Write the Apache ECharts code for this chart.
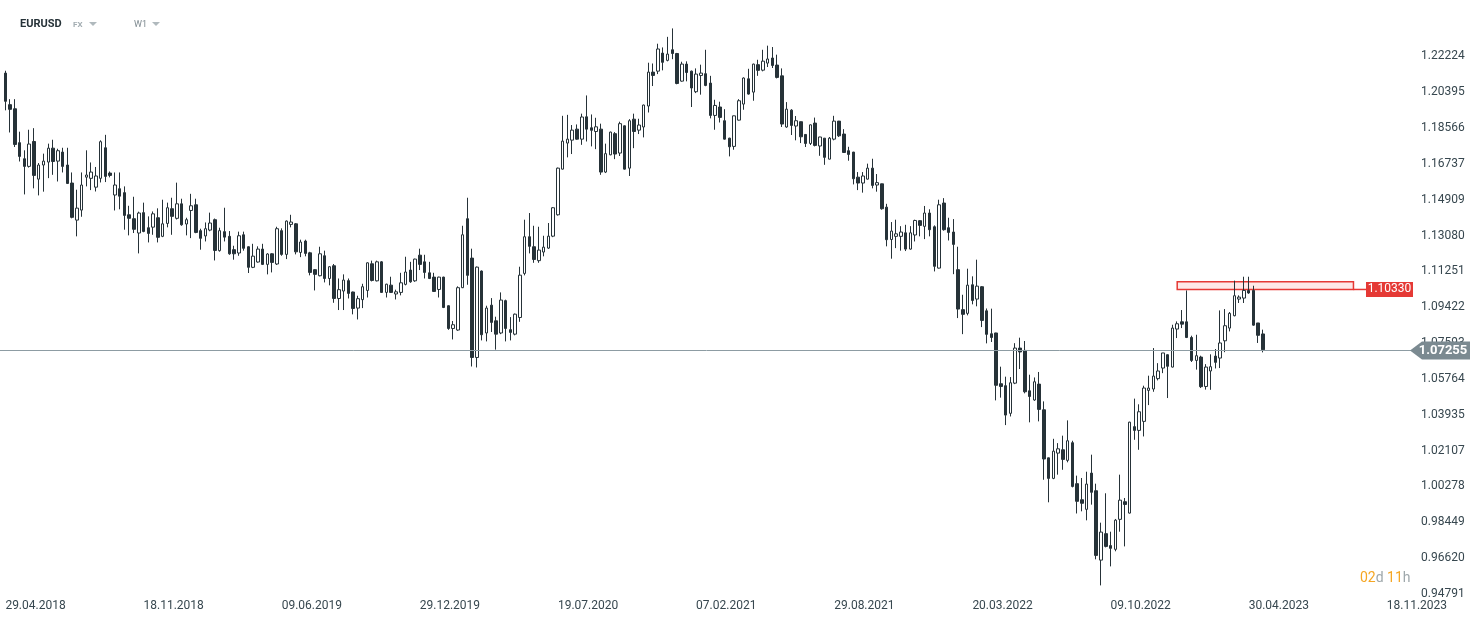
<!DOCTYPE html>
<html><head><meta charset="utf-8">
<script src="https://cdn.jsdelivr.net/npm/echarts@6/dist/echarts.min.js"></script>
<style>html,body{margin:0;padding:0;background:#fff}#c{width:1482px;height:622px}</style>
</head><body><div id="c"></div>
<script>
// ---- data ----
const weekCount = 296; // weekly slots on the axis (incl. future space)
const open = [
1.2137,1.1976,1.1955,1.1782,1.1700,1.1661,1.1788,1.1596,1.1668,1.1683,
1.1754,1.1688,1.1734,1.1668,1.1576,1.1387,1.1438,1.1606,1.1600,1.1555,
1.1600,1.1756,1.1627,1.1515,1.1547,1.1527,1.1414,1.1394,1.1321,1.1425,
1.1348,1.1351,1.1399,1.1304,1.1370,1.1445,1.1396,1.1470,1.1367,1.1436,
1.1465,1.1333,1.1306,1.1336,1.1389,1.1231,1.1328,1.1304,1.1236,1.1219,
1.1312,1.1251,1.1146,1.1173,1.1239,1.1161,1.1215,1.1163,1.1333,1.1212,
1.1365,1.1368,1.1222,1.1280,1.1220,1.1134,1.1103,1.1205,1.1089,1.1154,
1.0987,1.1025,1.1078,1.1020,1.0938,1.0981,1.1028,1.1164,1.1077,1.1174,
1.1018,1.1055,1.1010,1.1018,1.1059,1.1132,1.1077,1.1208,1.1174,1.1118,
1.1096,1.1033,1.1096,1.0950,1.0834,1.0826,1.1042,1.1394,1.1193,1.0686,
1.1127,1.0811,1.0953,1.0873,1.0811,1.0976,1.0828,1.0805,1.0890,1.1115,
1.1302,1.1251,1.1180,1.1224,1.1244,1.1305,1.1414,1.1647,1.1780,1.1795,
1.1851,1.1800,1.1914,1.1858,1.1839,1.1851,1.1632,1.1720,1.1828,1.1729,
1.1868,1.1652,1.1902,1.1846,1.1862,1.1969,1.2142,1.2147,1.2239,1.2202,
1.2256,1.2237,1.2096,1.2183,1.2147,1.2042,1.2125,1.2134,1.2086,1.1921,
1.1964,1.1894,1.1805,1.1763,1.1897,1.1979,1.2108,1.2040,1.2180,1.2152,
1.2188,1.2214,1.2178,1.2123,1.1862,1.1948,1.1867,1.1889,1.1824,1.1778,
1.1882,1.1765,1.1805,1.1698,1.1800,1.1892,1.1826,1.1741,1.1734,1.1606,
1.1576,1.1596,1.1652,1.1566,1.1572,1.1453,1.1288,1.1304,1.1304,1.1322,
1.1239,1.1311,1.1384,1.1355,1.1423,1.1353,1.1142,1.1474,1.1348,1.1326,
1.1134,1.0930,1.0911,1.1057,1.0984,1.1047,1.0924,1.0807,1.0811,1.0552,
1.0542,1.0401,1.0555,1.0734,1.0722,1.0516,1.0469,1.0550,1.0419,1.0174,
1.0069,1.0198,1.0215,1.0161,1.0251,1.0042,0.9960,0.9911,1.0096,1.0006,
0.9652,0.9787,0.9726,0.9707,0.9860,0.9950,0.9892,1.0333,1.0314,1.0360,
1.0518,1.0525,1.0578,1.0632,1.0700,1.0637,1.0831,1.0868,1.0868,1.0788,
1.0671,1.0688,1.0538,1.0617,1.0693,1.0683,1.0771,1.0836,1.0899,1.0984,
1.0989,1.1028,1.1028,1.0862,1.0806];
const high = [
1.2149,1.2004,1.2004,1.1838,1.1743,1.1848,1.1856,1.1678,1.1726,1.1777,
1.1797,1.1751,1.1756,1.1756,1.1630,1.1542,1.1630,1.1743,1.1681,1.1658,
1.1794,1.1822,1.1635,1.1630,1.1630,1.1559,1.1460,1.1506,1.1430,1.1476,
1.1406,1.1431,1.1447,1.1491,1.1476,1.1501,1.1578,1.1496,1.1399,1.1521,
1.1496,1.1343,1.1375,1.1425,1.1395,1.1348,1.1450,1.1331,1.1256,1.1328,
1.1328,1.1253,1.1266,1.1253,1.1266,1.1218,1.1218,1.1353,1.1345,1.1385,
1.1414,1.1372,1.1287,1.1287,1.1225,1.1136,1.1251,1.1231,1.1152,1.1163,
1.1089,1.1110,1.1089,1.1022,1.1001,1.1062,1.1171,1.1180,1.1180,1.1178,
1.1062,1.1098,1.1032,1.1118,1.1200,1.1174,1.1190,1.1241,1.1210,1.1174,
1.1118,1.1098,1.1098,1.0952,1.0872,1.1049,1.1358,1.1501,1.1241,1.1150,
1.1130,1.0950,1.0989,1.0894,1.1018,1.0981,1.0892,1.0910,1.1149,1.1389,
1.1423,1.1358,1.1353,1.1307,1.1372,1.1453,1.1655,1.1919,1.1924,1.1872,
1.1875,1.1930,1.2023,1.1926,1.1909,1.1879,1.1777,1.1838,1.1836,1.1889,
1.1870,1.1902,1.1930,1.1904,1.1976,1.2190,1.2186,1.2287,1.2268,1.2322,
1.2365,1.2240,1.2195,1.2197,1.2150,1.2161,1.2180,1.2256,1.2123,1.2001,
1.1991,1.1953,1.1807,1.1920,1.2004,1.2115,1.2159,1.2185,1.2205,1.2256,
1.2277,1.2270,1.2231,1.2161,1.1989,1.1953,1.1918,1.1890,1.1826,1.1875,
1.1910,1.1812,1.1806,1.1811,1.1919,1.1893,1.1851,1.1761,1.1735,1.1632,
1.1632,1.1675,1.1700,1.1622,1.1573,1.1470,1.1377,1.1389,1.1356,1.1363,
1.1356,1.1389,1.1387,1.1459,1.1442,1.1360,1.1491,1.1499,1.1399,1.1392,
1.1251,1.1006,1.1139,1.1100,1.1185,1.1050,1.0936,1.0935,1.0812,1.0639,
1.0588,1.0586,1.0759,1.0787,1.0770,1.0598,1.0584,1.0612,1.0462,1.0175,
1.0271,1.0249,1.0287,1.0365,1.0261,1.0083,1.0071,1.0103,1.0190,1.0042,
0.9843,0.9993,0.9797,0.9862,1.0088,0.9969,1.0358,1.0476,1.0447,1.0542,
1.0593,1.0734,1.0657,1.0709,1.0702,1.0853,1.0870,1.0928,1.1028,1.0797,
1.0802,1.0695,1.0652,1.0702,1.0729,1.0926,1.0933,1.0918,1.1078,1.1003,
1.1098,1.1098,1.1052,1.0862,1.0828];
const low = [
1.1947,1.1834,1.1760,1.1686,1.1518,1.1655,1.1549,1.1513,1.1532,1.1601,
1.1618,1.1584,1.1630,1.1571,1.1396,1.1304,1.1404,1.1559,1.1540,1.1533,
1.1579,1.1581,1.1605,1.1436,1.1442,1.1338,1.1309,1.1321,1.1217,1.1325,
1.1273,1.1312,1.1273,1.1300,1.1350,1.1312,1.1390,1.1358,1.1309,1.1295,
1.1320,1.1236,1.1278,1.1330,1.1181,1.1226,1.1278,1.1210,1.1185,1.1205,
1.1231,1.1117,1.1142,1.1170,1.1158,1.1110,1.1120,1.1158,1.1205,1.1188,
1.1350,1.1212,1.1198,1.1202,1.1105,1.1028,1.1100,1.1069,1.1054,1.0965,
1.0928,1.0928,1.0987,1.0906,1.0880,1.0938,1.0992,1.1074,1.1074,1.1015,
1.0992,1.1015,1.0982,1.1003,1.1054,1.1067,1.1072,1.1132,1.1089,1.1086,
1.1020,1.0992,1.0938,1.0827,1.0778,1.0822,1.1040,1.1057,1.0640,1.0635,
1.0773,1.0768,1.0816,1.0726,1.0805,1.0768,1.0773,1.0799,1.0868,1.1105,
1.1217,1.1169,1.1169,1.1202,1.1240,1.1300,1.1410,1.1645,1.1707,1.1724,
1.1797,1.1771,1.1788,1.1763,1.1749,1.1618,1.1627,1.1718,1.1698,1.1714,
1.1645,1.1612,1.1754,1.1826,1.1809,1.1936,1.2071,1.2132,1.2151,1.2197,
1.2208,1.2080,1.2093,1.2095,1.1964,1.2035,1.2027,1.2070,1.1906,1.1848,
1.1885,1.1798,1.1712,1.1746,1.1895,1.1950,1.2027,1.1996,1.2123,1.2146,
1.2168,1.2163,1.2110,1.1862,1.1858,1.1821,1.1794,1.1780,1.1760,1.1770,
1.1763,1.1715,1.1669,1.1697,1.1794,1.1811,1.1730,1.1690,1.1569,1.1540,
1.1527,1.1594,1.1549,1.1532,1.1440,1.1253,1.1190,1.1244,1.1231,1.1229,
1.1236,1.1278,1.1304,1.1290,1.1304,1.1125,1.1140,1.1333,1.1283,1.1111,
1.0887,1.0805,1.0901,1.0957,1.0947,1.0841,1.0758,1.0765,1.0467,1.0481,
1.0341,1.0385,1.0550,1.0627,1.0503,1.0355,1.0465,1.0360,1.0062,0.9947,
1.0065,1.0088,1.0113,1.0151,1.0023,0.9890,0.9901,0.9855,0.9935,0.9656,
0.9523,0.9717,0.9620,0.9697,0.9797,0.9722,0.9890,1.0266,1.0215,1.0283,
1.0443,1.0511,1.0569,1.0606,1.0479,1.0635,1.0785,1.0836,1.0785,1.0663,
1.0624,1.0530,1.0522,1.0521,1.0630,1.0632,1.0713,1.0819,1.0896,1.0964,
1.0964,1.1011,1.0848,1.0760,1.0712];
const close = [
1.1993,1.1952,1.1773,1.1712,1.1661,1.1775,1.1615,1.1668,1.1688,1.1754,
1.1686,1.1741,1.1661,1.1574,1.1401,1.1448,1.1566,1.1617,1.1632,1.1612,
1.1787,1.1610,1.1615,1.1566,1.1509,1.1411,1.1396,1.1340,1.1423,1.1329,
1.1319,1.1419,1.1299,1.1368,1.1450,1.1406,1.1470,1.1363,1.1389,1.1460,
1.1324,1.1294,1.1343,1.1372,1.1232,1.1333,1.1300,1.1215,1.1215,1.1307,
1.1243,1.1146,1.1203,1.1239,1.1161,1.1214,1.1171,1.1343,1.1212,1.1382,
1.1377,1.1225,1.1275,1.1217,1.1120,1.1110,1.1215,1.1089,1.1149,1.0987,
1.1032,1.1081,1.1013,1.0936,1.0986,1.1047,1.1169,1.1079,1.1174,1.1018,
1.1060,1.1018,1.1021,1.1067,1.1122,1.1072,1.1188,1.1161,1.1120,1.1089,
1.1023,1.1096,1.0941,1.0834,1.0853,1.1042,1.1312,1.1105,1.0686,1.1147,
1.0802,1.0938,1.0865,1.0805,1.0979,1.0834,1.0814,1.0907,1.1106,1.1302,
1.1253,1.1186,1.1234,1.1249,1.1305,1.1450,1.1652,1.1790,1.1800,1.1846,
1.1800,1.1913,1.1851,1.1845,1.1863,1.1632,1.1726,1.1836,1.1724,1.1879,
1.1647,1.1894,1.1839,1.1872,1.1974,1.2142,1.2125,1.2260,1.2192,1.2234,
1.2237,1.2084,1.2183,1.2140,1.2061,1.2132,1.2137,1.2074,1.1921,1.1972,
1.1911,1.1800,1.1761,1.1919,1.1996,1.2112,1.2030,1.2183,1.2151,1.2198,
1.2209,1.2176,1.2115,1.1877,1.1953,1.1870,1.1894,1.1812,1.1778,1.1873,
1.1768,1.1811,1.1707,1.1805,1.1892,1.1817,1.1732,1.1722,1.1598,1.1576,
1.1612,1.1652,1.1564,1.1578,1.1445,1.1287,1.1331,1.1317,1.1326,1.1239,
1.1322,1.1385,1.1360,1.1423,1.1338,1.1151,1.1465,1.1338,1.1324,1.1263,
1.0933,1.0906,1.1055,1.0977,1.1050,1.0875,1.0804,1.0788,1.0544,1.0538,
1.0392,1.0557,1.0734,1.0714,1.0511,1.0487,1.0562,1.0421,1.0168,1.0069,
1.0208,1.0220,1.0166,1.0261,1.0028,0.9952,0.9942,1.0040,0.9998,0.9676,
0.9795,0.9722,0.9712,0.9856,0.9958,0.9936,1.0356,1.0314,1.0409,1.0530,
1.0530,1.0591,1.0617,1.0709,1.0641,1.0836,1.0858,1.0856,1.0788,1.0671,
1.0695,1.0537,1.0637,1.0639,1.0661,1.0760,1.0848,1.0911,1.1001,1.0994,
1.1028,1.1015,1.0851,1.0799,1.07255];
const xTickLabels = ['29.04.2018','18.11.2018','09.06.2019','29.12.2019','19.07.2020','07.02.2021','29.08.2021','20.03.2022','09.10.2022','30.04.2023','18.11.2023'];
const xTickEvery = 29;
const yTickLabels = ['0.94791','0.96620','0.98449','1.00278','1.02107','1.03935','1.05764','1.07593','1.09422','1.11251','1.13080','1.14909','1.16737','1.18566','1.20395','1.22224'];
const lastPrice = 1.07255;
const lastPriceLabel = '1.07255';
const zoneTop = 1.1073, zoneBottom = 1.10330, zoneLabel = '1.10330';
const zoneStartIndex = 246, zoneEndIndex = 283;
const timerParts = ['02','d ','11','h'];

// ---- build ----
const pad = n => (n < 10 ? '0' : '') + n;
const categories = [];
const t0 = Date.UTC(2018, 3, 29);
for (let i = 0; i < weekCount; i++) {
  const d = new Date(t0 + i * 7 * 86400000);
  categories.push(pad(d.getUTCDate()) + '.' + pad(d.getUTCMonth() + 1) + '.' + d.getUTCFullYear());
}
const labelMap = {};
xTickLabels.forEach((s, k) => { labelMap[categories[k * xTickEvery]] = s; });
const candles = open.map((o, i) => [o, close[i], low[i], high[i]]);

const INK = '#263238';
const chart = echarts.init(document.getElementById('c'));
chart.setOption({
  animation: false,
  backgroundColor: '#ffffff',
  grid: { left: 3, right: 69, top: 0, bottom: 28 },
  xAxis: {
    type: 'category', data: categories, boundaryGap: true,
    axisLine: { show: false }, axisTick: { show: false }, splitLine: { show: false },
    axisLabel: { interval: xTickEvery - 1, align: 'left', margin: 6, color: '#37474f', fontSize: 12, fontFamily: 'Roboto',
      formatter: v => labelMap[v] || '' }
  },
  yAxis: {
    type: 'value', position: 'right', min: 0.94791, max: 1.2510, interval: 0.0182887, scale: true,
    axisLine: { show: false }, axisTick: { show: false }, splitLine: { show: false },
    axisLabel: { showMaxLabel: false, margin: 8, color: '#37474f', fontSize: 12, fontFamily: 'Roboto',
      formatter: v => {
        let best = '', bd = 1;
        yTickLabels.forEach(s => { const d = Math.abs(parseFloat(s) - v); if (d < bd) { bd = d; best = s; } });
        return bd < 0.003 ? best : '';
      } }
  },
  series: [{
    type: 'candlestick', data: candles, barWidth: 3,
    itemStyle: { color: '#ffffff', color0: INK, borderColor: INK, borderColor0: INK, borderColorDoji: INK, borderWidth: 1 },
    markArea: { silent: true,
      itemStyle: { color: 'rgba(244,67,54,0.12)', borderColor: '#e53935', borderWidth: 1.5 },
      data: [[{ xAxis: categories[zoneStartIndex], yAxis: zoneTop }, { xAxis: categories[zoneEndIndex], yAxis: zoneBottom }]] }
  }]
});

const W = chart.getWidth();
const gridRight = W - 69;
const yLast = Math.round(chart.convertToPixel({ yAxisIndex: 0 }, lastPrice)) + 0.5;
const yZone = chart.convertToPixel({ yAxisIndex: 0 }, zoneBottom);
const xZoneEnd = chart.convertToPixel({ xAxisIndex: 0 }, categories[zoneEndIndex]);
const redX = gridRight - 47;
chart.setOption({
  graphic: [
    { type: 'text', left: 20, top: 19, style: { text: 'EURUSD', font: 'bold 11px Roboto', fill: INK } },
    { type: 'text', left: 73, top: 21, style: { text: 'FX', font: 'bold 8px Roboto', fill: '#a3adb2' } },
    { type: 'polygon', shape: { points: [[89, 22], [97, 22], [93, 26]] }, style: { fill: '#b0b9bd' } },
    { type: 'text', left: 134, top: 20, style: { text: 'W1', font: '9px Roboto', fill: '#7d898f' } },
    { type: 'polygon', shape: { points: [[152, 22], [160, 22], [156, 26]] }, style: { fill: '#b0b9bd' } },
    // last price line (drawn at the value's pixel on the y scale)
    { type: 'line', z: 4, silent: true, shape: { x1: 0, y1: yLast, x2: gridRight, y2: yLast }, style: { stroke: '#8d9ca3', lineWidth: 1 } },
    // zone connector + label
    { type: 'line', z: 5, shape: { x1: xZoneEnd, y1: yZone, x2: redX, y2: yZone }, style: { stroke: '#e53935', lineWidth: 1.5 } },
    { type: 'rect', z: 6, shape: { x: redX, y: yZone - 7.5, width: 47, height: 15 }, style: { fill: '#e53935' } },
    { type: 'text', z: 7, x: redX + 23.5, y: yZone, style: { text: zoneLabel, font: '12px Roboto', fill: '#ffffff', align: 'center', verticalAlign: 'middle' } },
    // last price label
    { type: 'polygon', z: 6, shape: { points: [[gridRight - 3, yLast], [gridRight + 9, yLast - 9], [W - 12, yLast - 9], [W - 12, yLast + 9], [gridRight + 9, yLast + 9]] }, style: { fill: '#7b8a91' } },
    { type: 'text', z: 7, x: gridRight + 30, y: yLast, style: { text: lastPriceLabel, font: 'bold 13px Roboto', fill: '#ffffff', align: 'center', verticalAlign: 'middle' } },
    // timer
    { type: 'text', z: 7, left: 1360, top: 571, style: { text: '{o|' + timerParts[0] + '}{g|' + timerParts[1] + '}{o|' + timerParts[2] + '}{g|' + timerParts[3] + '}',
      rich: { o: { fill: '#f5a623', font: '14px Roboto' }, g: { fill: '#9ea7ab', font: '14px Roboto' } } } }
  ]
});
</script>
</body></html>
